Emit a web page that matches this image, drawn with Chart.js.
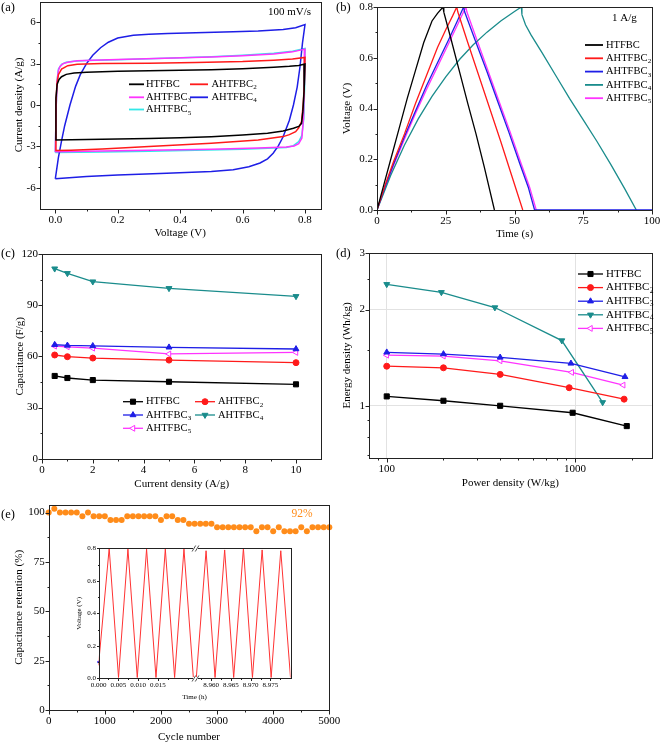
<!DOCTYPE html>
<html><head><meta charset="utf-8">
<script src="https://cdn.jsdelivr.net/npm/chart.js@4.4.0/dist/chart.umd.min.js"></script>
<style>
html,body{margin:0;padding:0;background:#fff;}
#wrap{position:relative;width:661px;height:744px;overflow:hidden;background:#fff;}
canvas{position:absolute;}
</style></head>
<body><div id="wrap">
<canvas id="ca" style="left:0px;top:0px" width="330" height="245"></canvas>
<canvas id="cb" style="left:330px;top:0px" width="331" height="245"></canvas>
<canvas id="cc" style="left:0px;top:240px" width="330" height="255"></canvas>
<canvas id="cd" style="left:330px;top:240px" width="331" height="255"></canvas>
<canvas id="ce" style="left:0px;top:495px" width="345" height="249"></canvas>
<canvas id="ci" style="left:70px;top:540px" width="230" height="165"></canvas>
</div>
<script>
// ================= DATA =================
const seriesNames = ['HTFBC','AHTFBC₂','AHTFBC₃','AHTFBC₄','AHTFBC₅'];

// (a) CV curves at 100 mV/s : voltage (V) and current density (A/g)
const cvV_HTFBC = [0,0.002,0.006,0.012,0.02,0.035,0.06,0.1,0.2,0.3,0.4,0.5,0.6,0.7,0.75,0.78,0.8,
                   0.797,0.793,0.789,0.78,0.763,0.73,0.68,0.6,0.5,0.4,0.3,0.2,0.1,0];
const cvI_HTFBC = [-2.53,0.5,1.5,1.85,2.05,2.22,2.32,2.38,2.44,2.48,2.52,2.56,2.63,2.73,2.8,2.87,2.97,
                   1.0,-0.5,-1.33,-1.55,-1.69,-1.88,-2.05,-2.18,-2.3,-2.38,-2.43,-2.47,-2.5,-2.53];
const cvV_AHTFBC2 = [0,0.002,0.005,0.01,0.02,0.04,0.07,0.15,0.3,0.45,0.6,0.7,0.76,0.8,
                     0.798,0.794,0.789,0.78,0.77,0.75,0.73,0.65,0.5,0.3,0.15,0.05,0];
const cvI_AHTFBC2 = [-3.3,0,1.5,2.2,2.6,2.85,2.95,3.0,3.03,3.08,3.15,3.25,3.33,3.45,
                     1.5,0,-1.2,-1.65,-1.93,-2.15,-2.29,-2.53,-2.77,-3.0,-3.18,-3.27,-3.3];
const cvV_AHTFBC3 = [0,0.003,0.006,0.01,0.015,0.025,0.04,0.07,0.12,0.2,0.35,0.5,0.6,0.7,0.76,0.8,
                     0.798,0.795,0.79,0.78,0.765,0.74,0.65,0.5,0.3,0.15,0];
const cvI_AHTFBC3 = [-3.4,0,1.8,2.5,2.8,3.0,3.1,3.2,3.25,3.3,3.38,3.47,3.56,3.7,3.85,4.05,
                     1.5,-1.0,-2.4,-2.8,-2.97,-3.05,-3.12,-3.2,-3.28,-3.33,-3.38];
const cvV_AHTFBC4 = [0,0.01,0.02,0.03,0.047,0.065,0.08,0.1,0.12,0.145,0.17,0.2,0.25,0.3,0.36,0.45,0.57,0.65,0.73,0.77,0.8,
                     0.792,0.784,0.775,0.763,0.75,0.73,0.715,0.698,0.68,0.656,0.62,0.57,0.5,0.357,0.2,0.1,0];
const cvI_AHTFBC4 = [-5.35,-3.8,-2.6,-1.5,0,1.35,2.2,3.0,3.6,4.15,4.55,4.85,5.06,5.13,5.18,5.23,5.3,5.36,5.47,5.6,5.83,
                     4.5,2.77,1.3,0,-1.1,-2.3,-2.95,-3.5,-3.9,-4.2,-4.48,-4.7,-4.82,-4.94,-5.08,-5.18,-5.35];
const cvV_AHTFBC5 = [0,0.003,0.006,0.01,0.02,0.035,0.06,0.1,0.2,0.35,0.5,0.6,0.7,0.76,0.8,
                     0.799,0.796,0.79,0.78,0.763,0.74,0.6,0.45,0.3,0.15,0];
const cvI_AHTFBC5 = [-3.45,0,1.8,2.6,2.95,3.1,3.17,3.22,3.28,3.38,3.5,3.6,3.75,3.9,4.1,
                     1.5,-1.0,-2.2,-2.65,-2.95,-3.08,-3.2,-3.28,-3.35,-3.4,-3.45];

// (b) GCD at 1 A/g : time (s) and voltage (V)
const gcdT_HTFBC = [0,2,5,8,11,14,17,20,22,24,24.3,27,30,33,36,39,42.7];
const gcdV_HTFBC = [0,0.08,0.2,0.32,0.44,0.55,0.66,0.745,0.775,0.8,0.78,0.67,0.545,0.42,0.3,0.17,0];
const gcdT_AHTFBC2 = [0,3,6,10,14,18,22,25,27.5,29,29.4,33,37,41,45,49,53];
const gcdV_AHTFBC2 = [0,0.1,0.19,0.3,0.42,0.53,0.64,0.71,0.765,0.8,0.78,0.66,0.53,0.4,0.27,0.135,0];
const gcdT_AHTFBC3 = [0,3,6,10,14,18,22,26,29,31.5,31.9,36,40,44,48,52,55,57.3,100];
const gcdV_AHTFBC3 = [0,0.095,0.18,0.29,0.39,0.49,0.58,0.67,0.74,0.8,0.78,0.66,0.545,0.425,0.305,0.18,0.09,0,0];
const gcdT_AHTFBC4 = [0,5,10,15,20,25,30,35,40,45,50,52.5,52.7,54,56,60,65,70,75,80,85,90,94.3];
const gcdV_AHTFBC4 = [0,0.137,0.256,0.359,0.448,0.525,0.593,0.651,0.701,0.745,0.782,0.8,0.77,0.73,0.69,0.62,0.53,0.44,0.355,0.27,0.18,0.085,0];
const gcdT_AHTFBC5 = [0,3,6,10,14,18,22,26,29.5,32.3,32.7,36.5,40.5,44.5,48.5,52.5,55.5,57.9];
const gcdV_AHTFBC5 = [0,0.09,0.175,0.28,0.38,0.475,0.565,0.655,0.735,0.8,0.78,0.665,0.545,0.425,0.305,0.18,0.09,0];

// (c) capacitance (F/g) vs current density (A/g)
const currentDensity = [0.5,1,2,5,10];
const cap_HTFBC   = [48.5,47.3,46.1,45.1,43.6];
const cap_AHTFBC2 = [60.8,59.8,59.0,57.8,56.3];
const cap_AHTFBC3 = [66.8,66.4,66.1,65.3,64.3];
const cap_AHTFBC4 = [111.4,108.7,103.8,99.9,95.2];
const cap_AHTFBC5 = [66.0,65.6,64.8,61.4,62.3];

// (d) Ragone: power density (W/kg) and energy density (Wh/kg)
const pd_HTFBC   = [100,200,400,970,1880];  const ed_HTFBC   = [1.07,1.037,1.0,0.951,0.864];
const pd_AHTFBC2 = [100,200,400,930,1820];  const ed_AHTFBC2 = [1.33,1.315,1.254,1.139,1.049];
const pd_AHTFBC3 = [100,200,400,950,1840];  const ed_AHTFBC3 = [1.47,1.452,1.417,1.357,1.232];
const pd_AHTFBC4 = [100,195,375,850,1400];  const ed_AHTFBC4 = [2.40,2.265,2.03,1.60,1.025];
const pd_AHTFBC5 = [100,200,400,960,1800];  const ed_AHTFBC5 = [1.44,1.431,1.383,1.272,1.161];

// (e) cycling stability
const cycles = [0,100,200,300,400,500,600,700,800,900,1000,1100,1200,1300,1400,1500,1600,1700,1800,1900,
  2000,2100,2200,2300,2400,2500,2600,2700,2800,2900,3000,3100,3200,3300,3400,3500,3600,3700,3800,3900,
  4000,4100,4200,4300,4400,4500,4600,4700,4800,4900,5000];
const retention = [100,101.9,100,100,100,100,98.1,100,98.1,98.1,
  98.1,96.3,96.3,96.3,98.1,98.1,98.1,98.1,98.1,98.1,
  96.3,98.1,98.1,96.3,96.3,94.4,94.4,94.4,94.4,94.4,
  92.6,92.6,92.6,92.6,92.6,92.6,92.6,90.6,92.6,92.6,
  90.6,92.6,90.6,90.6,90.6,92.6,90.6,92.6,92.6,92.6,
  92.6];
// inset GCD cycles (time in h, voltage in V), broken time axis
const insetTime = [0,0.0027,0.00506,0.00744,0.0098,0.01215,0.01453,0.01689,0.01924,0.0216,0.02397,
  8.95628,8.95874,8.96101,8.96344,8.96572,8.96818,8.97046,8.97291,8.97519,8.97762,8.98008];
const insetVoltage = [0.08,0.8,0.005,0.795,0.005,0.795,0.005,0.795,0.005,0.795,0.005,
  0.005,0.785,0.005,0.79,0.005,0.8,0.005,0.79,0.005,0.785,0.005];
const insetTickTimes  = [0,0.005,0.010,0.015,8.960,8.965,8.970,8.975];
const insetTickLabels = ['0.000','0.005','0.010','0.015','8.960','8.965','8.970','8.975'];
const insetMinorTimes = [0.0025,0.0075,0.0125,0.0175,0.0225,8.9575,8.9625,8.9675,8.9725,8.9775];

// ================= HELPERS =================
const FONT = "'Liberation Serif','Times New Roman',serif";
const H = Chart.helpers;
const BREAK_LEFT_END = 0.0243, BREAK_RIGHT_START = 8.95628, BREAK_GAP = 0.00043;
function brk(t){ return t < 1 ? t : t - BREAK_RIGHT_START + BREAK_LEFT_END + BREAK_GAP; }
const xy = (xs, ys) => xs.map((x,i)=>({x:x, y:ys[i]}));

function drawSubText(ctx, text, x, y, size, color){
  const subs = '₀₁₂₃₄₅₆₇₈₉';
  let base = text, sub = '';
  while (base.length && subs.includes(base[base.length-1])) {
    sub = String(subs.indexOf(base[base.length-1])) + sub; base = base.slice(0,-1);
  }
  ctx.fillStyle = color || '#000';
  ctx.font = size + 'px ' + FONT; ctx.textBaseline = 'middle'; ctx.textAlign = 'left';
  ctx.fillText(base, x, y);
  if (sub) {
    const w = ctx.measureText(base).width;
    ctx.font = (size*0.68).toFixed(1) + 'px ' + FONT;
    ctx.fillText(sub, x + w + 0.3, y + size*0.3);
  }
}

function near(a, b){ return Math.abs(a-b) < 1e-9*Math.max(1, Math.abs(b)); }

function mkScale(o){
  const all = o.major.concat(o.minor || []).sort((a,b)=>a-b);
  return {
    type: o.type || 'linear', position: o.pos, min: o.min, max: o.max, bounds: 'data',
    afterBuildTicks: s => { s.ticks = all.map(v => ({value: v})); },
    afterFit: s => {
      if (s.isHorizontal()) s.height = o.box; else s.width = o.box;
      s.paddingTop = 0; s.paddingBottom = 0; s.paddingLeft = 0; s.paddingRight = 0;
    },
    ticks: {
      autoSkip: false, maxRotation: 0, minRotation: 0, padding: o.tickPad, color: '#000',
      font: {family: FONT, size: o.fs || 11},
      callback: v => { const i = o.major.findIndex(m => near(v, m)); return i < 0 ? '' : o.fmt(v, i); }
    },
    grid: {
      display: !!o.grid, drawOnChartArea: true, drawTicks: false, lineWidth: 1,
      color: c => (c.tick && c.tick.label !== '' ? '#e2e2e2' : 'rgba(0,0,0,0)')
    },
    border: {display: false},
    title: {
      display: true, text: o.title, color: '#000', font: {family: FONT, size: o.tfs || 11},
      padding: o.pos === 'bottom' ? {top: 0, bottom: o.tpad} : {top: o.tpad, bottom: 0}
    }
  };
}

function decor(cfg){
  return {
    id: 'decor' + Math.random().toString(36).slice(2),
    afterDraw(chart){
      const ctx = chart.ctx, a = chart.chartArea;
      ctx.save();
      const L = Math.round(a.left)+0.5, R = Math.round(a.right)+0.5, T = Math.round(a.top)+0.5, B = Math.round(a.bottom)+0.5;
      ctx.strokeStyle = '#222'; ctx.lineWidth = 1;
      ctx.strokeRect(L, T, R-L, B-T);
      const tl = cfg.tick || 4, tm = cfg.minorTick || 2;
      const sx = chart.scales.x, sy = chart.scales.y;
      sx.ticks.forEach(t => {
        const p = Math.round(sx.getPixelForValue(t.value)) + 0.5, len = t.label !== '' ? tl : tm;
        ctx.beginPath(); ctx.moveTo(p, B); ctx.lineTo(p, B + len); ctx.stroke();
      });
      sy.ticks.forEach(t => {
        const p = Math.round(sy.getPixelForValue(t.value)) + 0.5, len = t.label !== '' ? tl : tm;
        ctx.beginPath(); ctx.moveTo(L, p); ctx.lineTo(L - len, p); ctx.stroke();
      });
      if (cfg.breakAt !== undefined) {
        const p = sx.getPixelForValue(cfg.breakAt);
        [B, T].forEach(yy => {
          ctx.fillStyle = '#fff'; ctx.fillRect(p - 2.5, yy - 1.5, 5, 3);
          ctx.strokeStyle = '#222'; ctx.lineWidth = 0.8;
          [-1.6, 1.6].forEach(d => { ctx.beginPath(); ctx.moveTo(p + d - 1.8, yy + 3); ctx.lineTo(p + d + 1.8, yy - 3); ctx.stroke(); });
        });
      }
      (cfg.texts || []).forEach(t => {
        ctx.fillStyle = t.color || '#000'; ctx.font = (t.size || 11) + 'px ' + FONT;
        ctx.textAlign = t.align || 'left'; ctx.textBaseline = 'middle';
        ctx.fillText(t.text, t.x, t.y);
      });
      (cfg.legend || []).forEach(it => {
        const ds = chart.data.datasets[it.ds];
        ctx.strokeStyle = ds.borderColor; ctx.lineWidth = it.lw || ds.borderWidth || 1.5;
        ctx.beginPath(); ctx.moveTo(it.x, it.y); ctx.lineTo(it.x + it.len, it.y); ctx.stroke();
        if (it.marker) {
          ctx.fillStyle = ds.pointBackgroundColor; ctx.strokeStyle = ds.pointBorderColor; ctx.lineWidth = 1;
          H.drawPoint(ctx, {pointStyle: ds.pointStyle, rotation: ds.pointRotation || 0, radius: ds.pointRadius, borderWidth: 1},
            it.x + it.len/2, it.y);
        }
        drawSubText(ctx, it.label, it.tx, it.y, it.size || 10.5, '#000');
      });
      ctx.restore();
    }
  };
}

function baseOpts(pad, scales){
  return {
    responsive: false, animation: false, devicePixelRatio: 1,
    layout: {padding: pad},
    plugins: {legend: {display: false}, tooltip: {enabled: false}},
    scales: scales
  };
}
function lineDS(data, color, w){
  return {data: data, showLine: true, borderColor: color, borderWidth: w || 1.5, pointRadius: 0, fill: false, tension: 0};
}
function markDS(data, color, style, rot, open, r){
  return {data: data, showLine: true, borderColor: color, borderWidth: 1.3, fill: false, tension: 0,
    pointStyle: style, pointRotation: rot || 0, pointRadius: r || 3.2,
    pointBackgroundColor: open ? '#fff' : color, pointBorderColor: color, pointBorderWidth: 1, clip: false};
}

const C_BLACK = '#000000', C_RED = '#FF1A1A', C_MAG = '#FF33FF', C_BLUE = '#1E1EE6', C_CYAN = '#33E8E8', C_TEAL = '#1A8C8C';

// ================= (a) =================
new Chart(document.getElementById('ca'), {
  type: 'scatter',
  data: {datasets: [
    lineDS(xy(cvV_HTFBC, cvI_HTFBC), C_BLACK),
    lineDS(xy(cvV_AHTFBC2, cvI_AHTFBC2), C_RED),
    lineDS(xy(cvV_AHTFBC3, cvI_AHTFBC3), C_MAG),
    lineDS(xy(cvV_AHTFBC4, cvI_AHTFBC4), C_BLUE),
    lineDS(xy(cvV_AHTFBC5, cvI_AHTFBC5), C_CYAN)
  ]},
  options: baseOpts({left: 0, top: 1.5, right: 9.4, bottom: 0}, {
    x: mkScale({pos: 'bottom', min: -0.05, max: 0.85, major: [0,0.2,0.4,0.6,0.8], minor: [0.1,0.3,0.5,0.7],
      fmt: v => v.toFixed(1), box: 36.5, tickPad: 5, title: 'Voltage (V)', tpad: 5.4}),
    y: mkScale({pos: 'left', min: -7.5, max: 7.5, major: [-6,-3,0,3,6], minor: [-4.5,-1.5,1.5,4.5],
      fmt: v => String(v), box: 39.7, tickPad: 4, title: 'Current density (A/g)', tpad: 12.4})
  }),
  plugins: [decor({
    texts: [{text: '(a)', x: 1, y: 8, size: 12.5}, {text: '100 mV/s', x: 268, y: 12, size: 11}],
    legend: [
      {ds: 0, x: 129, y: 84.3, len: 15, tx: 146, label: seriesNames[0], lw: 1.8},
      {ds: 1, x: 190, y: 84.3, len: 18, tx: 211.5, label: seriesNames[1], lw: 1.8},
      {ds: 2, x: 129, y: 97.3, len: 15, tx: 146, label: seriesNames[2], lw: 1.8},
      {ds: 3, x: 190, y: 97.3, len: 18, tx: 211.5, label: seriesNames[3], lw: 1.8},
      {ds: 4, x: 129, y: 109.5, len: 15, tx: 146, label: seriesNames[4], lw: 1.8}
    ]
  })]
});

// ================= (b) =================
new Chart(document.getElementById('cb'), {
  type: 'scatter',
  data: {datasets: [
    lineDS(xy(gcdT_HTFBC, gcdV_HTFBC), C_BLACK, 1.3),
    lineDS(xy(gcdT_AHTFBC2, gcdV_AHTFBC2), C_RED, 1.3),
    lineDS(xy(gcdT_AHTFBC3, gcdV_AHTFBC3), C_BLUE, 1.3),
    lineDS(xy(gcdT_AHTFBC4, gcdV_AHTFBC4), C_TEAL, 1.3),
    lineDS(xy(gcdT_AHTFBC5, gcdV_AHTFBC5), C_MAG, 1.3)
  ]},
  options: baseOpts({left: 0, top: 7, right: 9, bottom: 0}, {
    x: mkScale({pos: 'bottom', min: 0, max: 100, major: [0,25,50,75,100], minor: [12.5,37.5,62.5,87.5],
      fmt: v => String(v), box: 35, tickPad: 5, title: 'Time (s)', tpad: 4.4}),
    y: mkScale({pos: 'left', min: 0, max: 0.8, major: [0,0.2,0.4,0.6,0.8], minor: [0.1,0.3,0.5,0.7],
      fmt: v => v.toFixed(1), box: 47, tickPad: 4, title: 'Voltage (V)', tpad: 10.7})
  }),
  plugins: [decor({
    texts: [{text: '(b)', x: 6, y: 7.5, size: 12.5}, {text: '1 A/g', x: 282, y: 18.5, size: 11}],
    legend: [0,1,2,3,4].map(i => ({ds: i, x: 255, y: 45 + i*13.3, len: 18, tx: 276, label: seriesNames[i], lw: 1.8}))
  })]
});

// ================= (c) =================
new Chart(document.getElementById('cc'), {
  type: 'scatter',
  data: {datasets: [
    markDS(xy(currentDensity, cap_HTFBC), C_BLACK, 'rect', 0, false, 3.6),
    markDS(xy(currentDensity, cap_AHTFBC2), C_RED, 'circle', 0, false, 3),
    markDS(xy(currentDensity, cap_AHTFBC3), C_BLUE, 'triangle', 0, false, 3.4),
    markDS(xy(currentDensity, cap_AHTFBC4), C_TEAL, 'triangle', 180, false, 3.4),
    markDS(xy(currentDensity, cap_AHTFBC5), C_MAG, 'triangle', 270, true, 3.4)
  ]},
  options: baseOpts({left: 0, top: 14, right: 8.6, bottom: 0}, {
    x: mkScale({pos: 'bottom', min: 0, max: 11, major: [0,2,4,6,8,10], minor: [1,3,5,7,9],
      fmt: v => String(v), box: 36.3, tickPad: 5, title: 'Current density (A/g)', tpad: 4.4}),
    y: mkScale({pos: 'left', min: 0, max: 120, major: [0,30,60,90,120], minor: [15,45,75,105],
      fmt: v => String(v), box: 42, tickPad: 4, title: 'Capacitance (F/g)', tpad: 13.4})
  }),
  plugins: [decor({
    texts: [{text: '(c)', x: 1, y: 14, size: 12.5}],
    legend: [
      {ds: 0, x: 123, y: 161.7, len: 20, tx: 146, label: seriesNames[0], marker: true},
      {ds: 1, x: 195, y: 161.7, len: 20, tx: 218, label: seriesNames[1], marker: true},
      {ds: 2, x: 123, y: 175, len: 20, tx: 146, label: seriesNames[2], marker: true},
      {ds: 3, x: 195, y: 175, len: 20, tx: 218, label: seriesNames[3], marker: true},
      {ds: 4, x: 123, y: 188.3, len: 20, tx: 146, label: seriesNames[4], marker: true}
    ]
  })]
});

// ================= (d) =================
new Chart(document.getElementById('cd'), {
  type: 'scatter',
  data: {datasets: [
    markDS(xy(pd_HTFBC, ed_HTFBC), C_BLACK, 'rect', 0, false, 3.6),
    markDS(xy(pd_AHTFBC2, ed_AHTFBC2), C_RED, 'circle', 0, false, 3),
    markDS(xy(pd_AHTFBC3, ed_AHTFBC3), C_BLUE, 'triangle', 0, false, 3.4),
    markDS(xy(pd_AHTFBC4, ed_AHTFBC4), C_TEAL, 'triangle', 180, false, 3.4),
    markDS(xy(pd_AHTFBC5, ed_AHTFBC5), C_MAG, 'triangle', 270, true, 3.4)
  ]},
  options: baseOpts({left: 0, top: 13.3, right: 9.3, bottom: 0}, {
    x: mkScale({type: 'logarithmic', pos: 'bottom', min: 80.5, max: 2550, major: [100,1000],
      minor: [90,200,300,400,500,600,700,800,900,2000],
      fmt: v => String(v), box: 37.3, tickPad: 5, title: 'Power density (W/kg)', tpad: 5.1, grid: true}),
    y: mkScale({type: 'logarithmic', pos: 'left', min: 0.688, max: 3, major: [1,2,3], minor: [0.7,0.8,0.9,1.5,2.5],
      fmt: v => String(v), box: 39, tickPad: 4, title: 'Energy density (Wh/kg)', tpad: 10.1, grid: true})
  }),
  plugins: [decor({
    texts: [{text: '(d)', x: 6, y: 14, size: 12.5}],
    legend: [0,1,2,3,4].map(i => ({ds: i, x: 248, y: 34 + i*13.6, len: 25, tx: 276, label: seriesNames[i], marker: true, size: 11}))
  })]
});

// ================= (e) =================
new Chart(document.getElementById('ce'), {
  type: 'scatter',
  data: {datasets: [{
    data: xy(cycles, retention), showLine: false, pointStyle: 'circle', pointRadius: 3,
    pointBackgroundColor: '#FF8C1A', pointBorderColor: '#FF8C1A', pointBorderWidth: 0, borderColor: '#FF8C1A', clip: false
  }]},
  options: baseOpts({left: 0, top: 9.7, right: 15.7, bottom: 0}, {
    x: mkScale({pos: 'bottom', min: 0, max: 5000, major: [0,1000,2000,3000,4000,5000], minor: [500,1500,2500,3500,4500],
      fmt: v => String(v), box: 34, tickPad: 5, title: 'Cycle number', tpad: 0.7}),
    y: mkScale({pos: 'left', min: 0, max: 104, major: [0,25,50,75,100], minor: [12.5,37.5,62.5,87.5],
      fmt: v => String(v), box: 48.7, tickPad: 4, title: 'Capacitance retention (%)', tpad: 12.4})
  }),
  plugins: [decor({
    texts: [{text: '(e)', x: 1, y: 20, size: 12.5}, {text: '92%', x: 291.5, y: 18.5, size: 11.5, color: '#FF8C1A'}]
  })]
});

// ================= inset =================
new Chart(document.getElementById('ci'), {
  type: 'scatter',
  data: {datasets: [
    lineDS(insetTime.map((t,i) => ({x: brk(t), y: insetVoltage[i]})), '#FF3333', 1),
    {data: [{x: 0, y: 0.1}], showLine: false, pointRadius: 1.3, pointBackgroundColor: '#2020FF', pointBorderWidth: 0, clip: false}
  ]},
  options: baseOpts({left: 0, top: 8.3, right: 9.5, bottom: 0}, {
    x: mkScale({pos: 'bottom', min: 0, max: brk(8.98008), major: insetTickTimes.map(brk), minor: insetMinorTimes.map(brk),
      fmt: (v, i) => insetTickLabels[i], box: 26.7, tickPad: 3, fs: 7, tfs: 7, title: 'Time (h)', tpad: 3.5}),
    y: mkScale({pos: 'left', min: 0, max: 0.8, major: [0,0.2,0.4,0.6,0.8], minor: [0.1,0.3,0.5,0.7],
      fmt: v => v.toFixed(1), box: 28.5, tickPad: 2.5, fs: 7, tfs: 7, title: 'Voltage (V)', tpad: 4.8})
  }),
  plugins: [decor({tick: 2.5, minorTick: 1.5, breakAt: (brk(BREAK_LEFT_END) + brk(BREAK_RIGHT_START)) / 2})]
});
</script>
</body></html>
